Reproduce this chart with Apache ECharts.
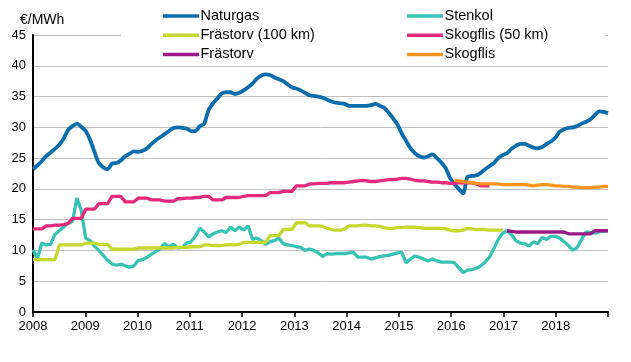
<!DOCTYPE html>
<html><head><meta charset="utf-8">
<script src="https://cdn.jsdelivr.net/npm/echarts@6/dist/echarts.min.js"></script>
<style>html,body{margin:0;padding:0;background:#fff}#c{width:631px;height:362px}</style>
</head><body><div id="c"></div>
<script>
// Monthly data, Jan 2008 – Dec 2018 (132 months)
const firstYear = 2008;
const nMonths = 132;
const yearLabels = ['2008','2009','2010','2011','2012','2013','2014','2015','2016','2017','2018'];
const yTicks = [0,5,10,15,20,25,30,35,40,45];

const naturgas = [
  23.2,23.8,24.5,25.3,25.9,26.5,27.2,28.2,29.6,30.2,30.6,30.1,
  29.4,28.0,26.0,24.2,23.5,23.2,24.1,24.2,24.6,25.3,25.7,26.1,
  26.0,26.2,26.6,27.3,27.9,28.4,28.9,29.4,29.9,30.0,29.9,29.8,
  29.4,29.4,30.2,30.6,32.8,33.9,34.7,35.5,35.7,35.7,35.4,35.6,
  36.0,36.5,37.1,37.9,38.4,38.6,38.5,38.1,37.8,37.5,37.0,36.5,
  36.3,36.0,35.6,35.2,35.1,35.0,34.8,34.5,34.2,34.0,33.9,33.8,
  33.5,33.5,33.5,33.5,33.5,33.6,33.8,33.5,33.2,32.4,31.5,30.5,
  29.0,27.8,26.6,25.8,25.3,25.1,25.3,25.6,25.0,24.3,23.4,21.8,
  20.8,20.0,19.3,22.0,22.1,22.2,22.6,23.2,23.7,24.2,25.0,25.5,
  25.8,26.5,27.0,27.3,27.3,27.0,26.7,26.6,26.8,27.3,27.7,28.3,
  29.3,29.7,29.9,30.0,30.2,30.6,30.9,31.3,32.0,32.6,32.5,32.3
];
const stenkol = [
  10.1,8.7,11.2,10.9,11.0,12.6,13.2,13.8,14.4,14.7,18.5,16.5,
  12.0,11.6,10.7,10.0,9.2,8.4,7.8,7.6,7.8,7.5,7.3,7.5,
  8.4,8.5,8.9,9.4,9.8,10.3,11.1,10.6,11.0,10.4,10.5,11.2,
  11.4,12.3,13.6,13.0,12.2,12.7,13.0,13.2,12.9,13.8,13.2,13.8,
  13.3,14.0,11.8,12.0,11.6,11.0,11.4,11.6,12.0,11.1,10.9,10.8,
  10.6,10.5,10.0,10.2,10.0,9.6,9.0,9.5,9.4,9.5,9.5,9.5,
  9.6,9.7,8.9,8.9,8.9,8.6,8.8,9.0,9.1,9.2,9.4,9.6,
  9.7,8.0,8.6,9.1,8.9,8.6,8.3,8.6,8.3,8.1,8.1,8.1,
  8.0,7.2,6.4,6.8,6.9,7.1,7.5,8.1,8.9,10.3,11.8,12.8,
  13.2,12.6,11.6,11.2,11.1,10.7,11.4,11.1,12.1,11.8,12.3,12.3,
  12.0,11.4,10.8,10.0,10.5,11.8,13.0,12.9,12.8,13.0,13.1,13.2
];
const frastorv100Start = 0;
const frastorv100 = [
  8.5,8.5,8.5,8.5,8.5,8.5,10.9,10.9,10.9,10.9,10.9,10.9,
  11.2,11.2,11.2,11.0,11.0,11.0,10.2,10.2,10.2,10.2,10.2,10.2,
  10.4,10.4,10.4,10.4,10.4,10.4,10.4,10.4,10.4,10.5,10.5,10.5,
  10.6,10.6,10.6,10.9,10.9,10.8,10.8,10.8,10.9,10.9,10.9,11.0,
  11.3,11.3,11.3,11.3,11.3,11.3,12.4,12.4,12.4,13.4,13.4,13.4,
  14.5,14.5,14.5,14.0,14.0,14.0,13.9,13.6,13.4,13.3,13.3,13.5,
  14.0,14.0,14.0,14.1,14.1,14.0,14.0,13.9,13.7,13.6,13.6,13.7,
  13.7,13.8,13.8,13.8,13.7,13.6,13.6,13.6,13.6,13.6,13.5,13.3,
  13.2,13.2,13.3,13.6,13.5,13.4,13.4,13.4,13.3,13.3,13.3,13.3
];
const skogflis50Start = 0;
const skogflis50 = [
  13.5,13.5,13.5,14.0,14.0,14.1,14.1,14.2,14.4,15.2,15.2,15.2,
  16.7,16.7,16.7,17.6,17.6,17.6,18.8,18.8,18.8,17.9,17.9,17.9,
  18.5,18.5,18.5,18.2,18.2,18.2,18.0,18.0,18.0,18.4,18.4,18.5,
  18.5,18.6,18.6,18.8,18.8,18.2,18.2,18.2,18.6,18.6,18.6,18.6,
  18.8,18.9,18.9,18.9,18.9,18.9,19.4,19.4,19.4,19.6,19.6,19.6,
  20.5,20.5,20.5,20.8,20.8,20.9,20.9,20.9,21.0,21.0,21.0,21.0,
  21.1,21.2,21.3,21.4,21.3,21.2,21.2,21.3,21.4,21.5,21.5,21.6,
  21.7,21.7,21.6,21.4,21.3,21.3,21.2,21.1,21.1,21.0,21.0,20.9,
  20.9,21.0,21.0,21.0,21.0,20.8,20.5,20.5,20.5
];
const frastorvStart = 108;
const frastorv = [
  13.2,13.1,13.0,13.0,13.0,13.0,13.0,13.0,13.0,13.0,13.0,13.0,
  13.0,13.0,12.7,12.7,12.7,12.7,12.7,12.7,13.2,13.2,13.2,13.2
];
const skogflisStart = 96;
const skogflis = [
  21.4,21.3,21.2,21.1,21.0,20.9,20.8,20.8,20.8,20.8,20.8,20.7,
  20.7,20.7,20.7,20.7,20.7,20.6,20.5,20.6,20.7,20.7,20.6,20.5,
  20.5,20.4,20.4,20.3,20.3,20.2,20.2,20.2,20.3,20.3,20.4,20.4
];

const seriesNames = ['Naturgas','Stenkol','Frästorv (100 km)','Skogflis (50 km)','Frästorv','Skogflis'];
const seriesColors = ['#0b6dab','#36c3b5','#c4d82e','#e52a7b','#9c1a87','#f7941e'];

// month index -> position on the year axis (series span the full plot width)
function monthPos(i){ return firstYear + i * (yearLabels.length) / (nMonths - 1); }
function toData(arr, start){ return arr.map((v, k) => [monthPos(start + k), v]); }

const dataSets = [
  toData(naturgas, 0),
  toData(stenkol, 0),
  toData(frastorv100, frastorv100Start),
  toData(skogflis50, skogflis50Start),
  toData(frastorv, frastorvStart),
  toData(skogflis, skogflisStart)
];

const FONT = 'Liberation Sans, Arial, sans-serif';
const chart = echarts.init(document.getElementById('c'), null, {renderer:'canvas'});
const legendCommon = {
  orient: 'vertical', top: 3, icon: 'rect', itemWidth: 36, itemHeight: 3.5, itemGap: 3.2,
  textStyle: {fontSize: 14.5, color: '#000', fontFamily: FONT, lineHeight: 16, padding: [0,0,0,-3.5]},
  selectedMode: false
};
chart.setOption({
  animation: false,
  backgroundColor: '#fff',
  title: {text: '€/MWh', left: 15, top: 8, textStyle: {fontSize: 14, fontWeight: 'normal', color: '#000', fontFamily: FONT}},
  grid: {left: 33, right: 23, top: 35, bottom: 50},
  legend: [
    Object.assign({}, legendCommon, {left: 158, data: [seriesNames[0], seriesNames[2], seriesNames[4]]}),
    Object.assign({}, legendCommon, {left: 402, data: [seriesNames[1], seriesNames[3], seriesNames[5]]})
  ],
  graphic: [{type: 'rect', shape: {x: 121, y: 31, width: 484, height: 8}, style: {fill: '#fff'}, z: 1}],
  xAxis: {
    type: 'value', min: firstYear, max: firstYear + yearLabels.length, interval: 1,
    axisLine: {show: true, onZero: false, lineStyle: {color: '#000', width: 2}},
    axisTick: {show: true, length: 5, lineStyle: {color: '#000', width: 1.5}},
    axisLabel: {color: '#000', fontSize: 13, fontFamily: FONT, margin: 8,
      formatter: v => yearLabels[Math.round(v - firstYear)] || ''},
    splitLine: {show: false}
  },
  yAxis: {
    type: 'value', min: yTicks[0], max: yTicks[yTicks.length-1], interval: 5,
    axisLine: {show: true, lineStyle: {color: '#000', width: 2}},
    axisTick: {show: false},
    axisLabel: {color: '#000', fontSize: 13, fontFamily: FONT, margin: 7},
    splitLine: {show: true, lineStyle: {color: '#bfbfbf', width: 1}}
  },
  series: seriesNames.map((name, k) => ({
    name, type: 'line', data: dataSets[k], showSymbol: false, symbol: 'none',
    smooth: k === 0 ? 0.25 : false,
    color: seriesColors[k],
    lineStyle: {width: k === 0 ? 3.8 : 3.3, color: seriesColors[k]},
    itemStyle: {color: seriesColors[k]},
    z: 2 + k
  }))
});
</script></body></html>
